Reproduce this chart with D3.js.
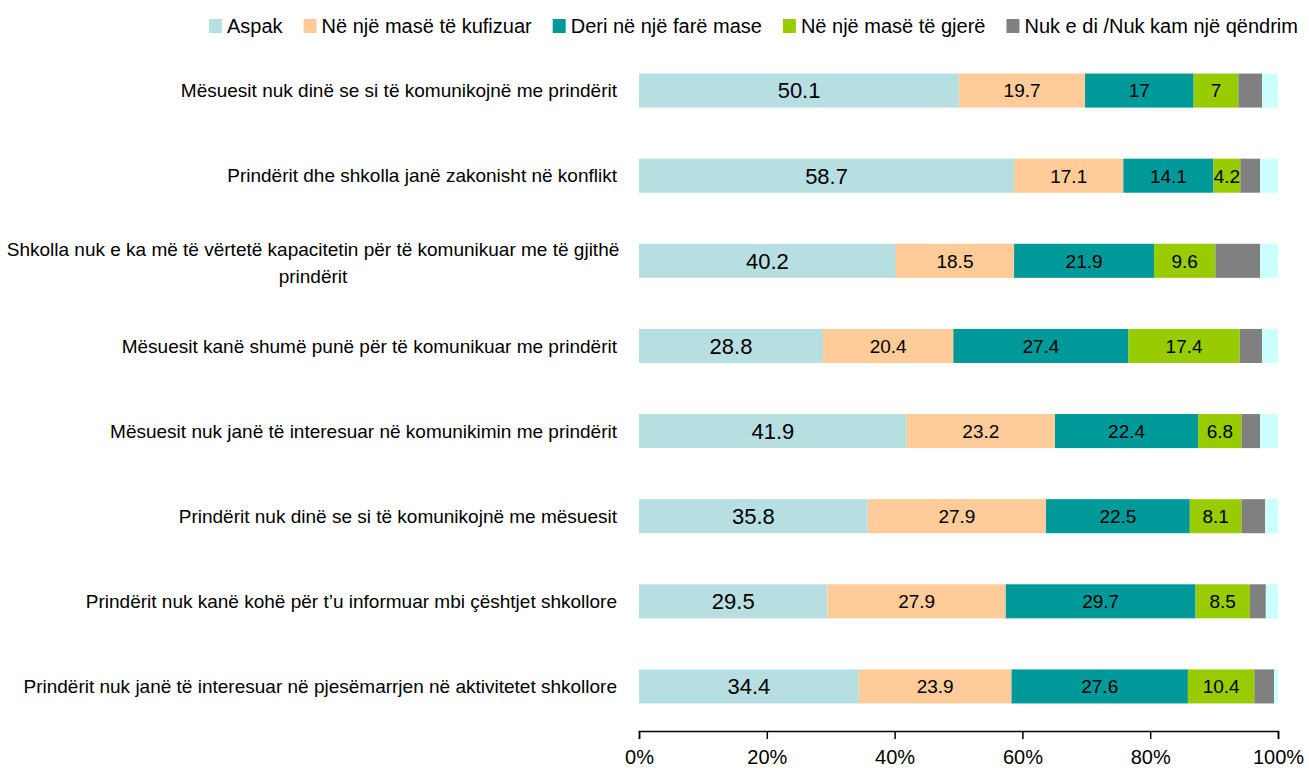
<!DOCTYPE html>
<html>
<head>
<meta charset="utf-8">
<script src="https://cdn.jsdelivr.net/npm/d3@7/dist/d3.min.js"></script>
<style>
  body { margin:0; background:#fff; }
  svg text { font-family: "Liberation Sans", Arial, sans-serif; fill:#000; }
</style>
</head>
<body>
<div id="chart"></div>
<script>
// 100% stacked bars: views on school-parent communication
const categories = [
  'Mësuesit nuk dinë se si të komunikojnë me prindërit',
  'Prindërit dhe shkolla janë zakonisht në konflikt',
  'Shkolla nuk e ka më të vërtetë kapacitetin për të komunikuar me të gjithë|prindërit',
  'Mësuesit kanë shumë punë për të komunikuar me prindërit',
  'Mësuesit nuk janë të interesuar në komunikimin me prindërit',
  'Prindërit nuk dinë se si të komunikojnë me mësuesit',
  'Prindërit nuk kanë kohë për t’u informuar mbi çështjet shkollore',
  'Prindërit nuk janë të interesuar në pjesëmarrjen në aktivitetet shkollore'
];
const seriesNames = ['Aspak', 'Në një masë të kufizuar', 'Deri në një farë mase', 'Në një masë të gjerë', 'Nuk e di /Nuk kam një qëndrim'];
const aspak     = [50.1, 58.7, 40.2, 28.8, 41.9, 35.8, 29.5, 34.4];
const kufizuar  = [19.7, 17.1, 18.5, 20.4, 23.2, 27.9, 27.9, 23.9];
const fareMase  = [17.0, 14.1, 21.9, 27.4, 22.4, 22.5, 29.7, 27.6];
const gjere     = [7.0, 4.2, 9.6, 17.4, 6.8, 8.1, 8.5, 10.4];
const nukDi     = [3.7, 3.1, 7.0, 3.5, 2.9, 3.7, 2.5, 3.1];
const other     = [2.5, 2.8, 2.8, 2.5, 2.8, 2.0, 1.9, 0.6]; // unlabelled remainder
const xTicks = [0, 20, 40, 60, 80, 100];

const colors = ['#B7DFE2', '#FFCC99', '#009999', '#99CC00', '#808080', '#CCFFFF'];
const keys = ['s0','s1','s2','s3','s4','s5'];
const allSeries = [aspak, kufizuar, fareMase, gjere, nukDi, other];

const rows = categories.map((c, i) => {
  const r = { cat: c };
  keys.forEach((k, j) => r[k] = allSeries[j][i]);
  return r;
});

const width = 1309, height = 771;
const margin = { top: 48, right: 31, bottom: 40, left: 639 };

const svg = d3.select('#chart').append('svg')
  .attr('width', width).attr('height', height);

const x = d3.scaleLinear().domain([0, 100]).range([margin.left, width - margin.right]);
const y = d3.scaleBand().domain(categories).range([margin.top, 729]).paddingInner(0.6).paddingOuter(0.3);

const stacked = d3.stack().keys(keys)(rows);

const layer = svg.append('g').selectAll('g')
  .data(stacked).enter().append('g')
  .attr('fill', (d, i) => colors[i]);

layer.selectAll('rect')
  .data(d => d)
  .enter().append('rect')
  .attr('x', d => x(d[0]))
  .attr('y', d => y(d.data.cat))
  .attr('width', d => x(d[1]) - x(d[0]))
  .attr('height', y.bandwidth());

// value labels on the first four series
layer.filter((d, i) => i < 4).selectAll('text')
  .data((d, i) => d.map(v => ({ v, i })))
  .enter().append('text')
  .attr('x', d => (x(d.v[0]) + x(d.v[1])) / 2)
  .attr('y', d => y(d.v.data.cat) + y.bandwidth() / 2)
  .attr('dy', '0.36em')
  .attr('text-anchor', 'middle')
  .style('font-size', d => d.i === 0 ? '22px' : '19px')
  .text(d => d3.format('.1~f')(d.v[1] - d.v[0]));

// category labels
const catG = svg.append('g');
categories.forEach(c => {
  const lines = c.split('|');
  const cy = y(c) + y.bandwidth() / 2;
  const t = catG.append('text')
    .style('font-size', '19px')
    .attr('text-anchor', lines.length > 1 ? 'middle' : 'end');
  if (lines.length > 1) {
    lines.forEach((ln, k) => {
      t.append('tspan').attr('x', 313).attr('y', cy + 2 + (k - (lines.length - 1) / 2) * 27).attr('dy', '0.35em').text(ln);
    });
  } else {
    t.attr('x', 617).attr('y', cy).attr('dy', '0.35em').text(c);
  }
});

// x axis
const axis = svg.append('g')
  .attr('transform', 'translate(0,731)')
  .call(d3.axisBottom(x).tickValues(xTicks).tickFormat(d => d + '%').tickSizeOuter(0).tickSize(8).tickPadding(11));
axis.select('.domain').attr('stroke', '#000').attr('stroke-width', 1.5);
axis.selectAll('.tick line').attr('stroke', '#000').attr('stroke-width', 1.5);
axis.selectAll('.tick text').style('font-size', '20px').attr('fill', '#000')
  .style('font-family', '"Liberation Sans", Arial, sans-serif');

// legend
const legend = svg.append('g').attr('transform', 'translate(209,26)');
let lx = 0;
seriesNames.forEach((n, i) => {
  const g = legend.append('g').attr('transform', `translate(${lx},0)`);
  g.append('rect').attr('x', 0).attr('y', -7).attr('width', 13).attr('height', 14).attr('fill', colors[i]);
  const t = g.append('text').attr('x', 18).attr('dy', '0.35em').style('font-size', '20px').text(n);
  lx += 18 + t.node().getComputedTextLength() + 21;
});
</script>
</body>
</html>
